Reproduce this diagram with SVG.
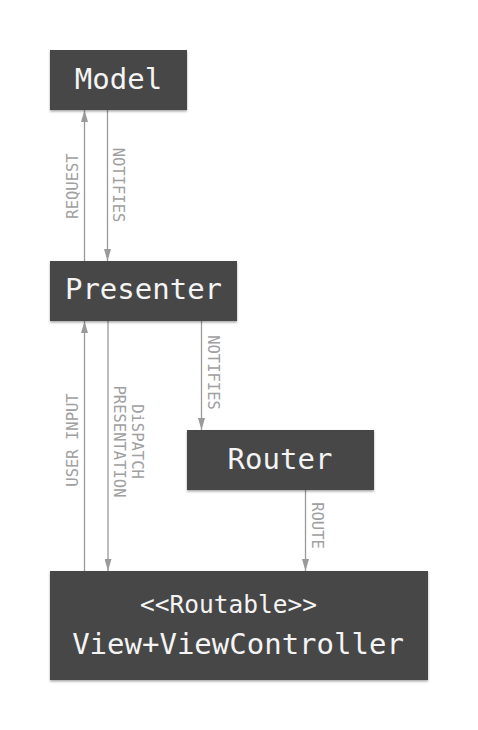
<svg xmlns="http://www.w3.org/2000/svg" width="478" height="730" viewBox="0 0 478 730">
  <style>
    .box { fill: #474747; }
    .nt { font-family: "DejaVu Sans Mono", "Liberation Mono", monospace; font-size: 29px; fill: #f4f4f4; text-anchor: middle; }
    .st { font-family: "DejaVu Sans Mono", "Liberation Mono", monospace; font-size: 24.5px; fill: #f4f4f4; text-anchor: middle; }
    .ln { stroke: #9a9a9a; stroke-width: 1.3; fill: none; marker-end: url(#ah); }
    .lb { font-family: "DejaVu Sans Mono", "Liberation Mono", monospace; font-size: 15.5px; fill: #a0a0a0; text-anchor: middle; }
  </style>
  <defs>
    <marker id="ah" markerUnits="userSpaceOnUse" markerWidth="12" markerHeight="7" refX="12" refY="3.5" orient="auto">
      <path d="M0,0 L12,3.5 L0,7 z" fill="#9a9a9a"/>
    </marker>
    <filter id="sh" x="-10%" y="-10%" width="120%" height="130%">
      <feDropShadow dx="0" dy="1.5" stdDeviation="1.2" flood-color="#000" flood-opacity="0.35"/>
    </filter>
  </defs>
  <rect width="478" height="730" fill="#ffffff"/>

  <g id="connectors">
    <line class="ln" x1="84.5" y1="261" x2="84.5" y2="110"/>
    <line class="ln" x1="107.5" y1="110" x2="107.5" y2="261"/>
    <line class="ln" x1="84.5" y1="571" x2="84.5" y2="321"/>
    <line class="ln" x1="108" y1="321" x2="108" y2="571"/>
    <line class="ln" x1="201.5" y1="321" x2="201.5" y2="430"/>
    <line class="ln" x1="305.5" y1="490" x2="305.5" y2="571"/>
    <text class="lb" transform="translate(78,186) rotate(-90)">REQUEST</text>
    <text class="lb" transform="translate(113.3,185) rotate(90)">NOTIFIES</text>
    <text class="lb" transform="translate(78.3,440) rotate(-90)">USER INPUT</text>
    <text class="lb" transform="translate(131.7,441.5) rotate(90)"><tspan x="0" dy="0">DiSPATCH</tspan><tspan x="0" dy="17.7">PRESENTATION</tspan></text>
    <text class="lb" transform="translate(207.7,372.5) rotate(90)">NOTIFIES</text>
    <text class="lb" transform="translate(311.7,525.5) rotate(90)">ROUTE</text>
  </g>

  <g id="model">
    <rect class="box" x="50" y="50" width="137" height="60" filter="url(#sh)"/>
    <text class="nt" x="118.5" y="88.5">Model</text>
  </g>
  <g id="presenter">
    <rect class="box" x="50" y="261" width="187" height="60" filter="url(#sh)"/>
    <text class="nt" x="143.5" y="299">Presenter</text>
  </g>
  <g id="router">
    <rect class="box" x="187" y="430" width="187" height="60" filter="url(#sh)"/>
    <text class="nt" x="280" y="468.5">Router</text>
  </g>
  <g id="view">
    <rect class="box" x="50" y="571" width="378" height="109" filter="url(#sh)"/>
    <text class="st" x="228.5" y="613">&lt;&lt;Routable&gt;&gt;</text>
    <text class="nt" x="238" y="653.5">View+ViewController</text>
  </g>
</svg>
